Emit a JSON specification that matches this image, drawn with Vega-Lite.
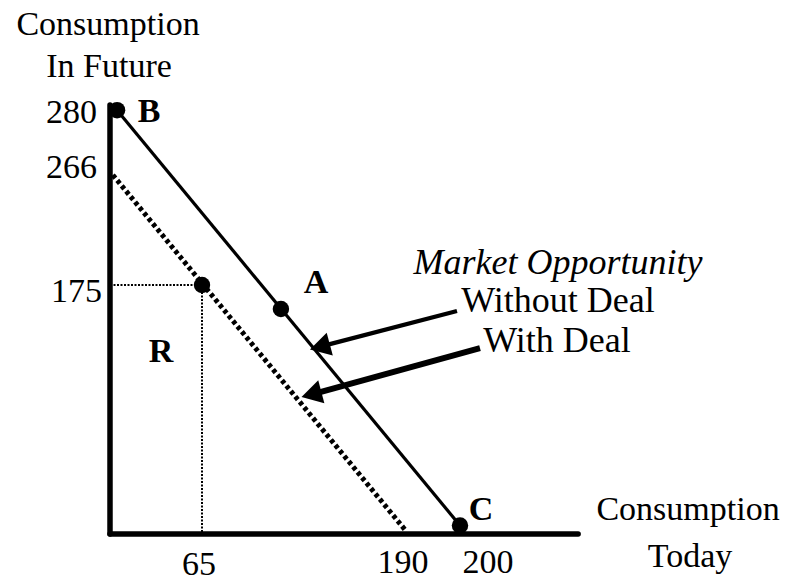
{
  "$schema": "https://vega.github.io/schema/vega-lite/v6.json",
  "width": 790,
  "height": 582,
  "autosize": {"type": "fit", "contains": "padding"},
  "padding": 0,
  "background": "white",
  "config": {"view": {"stroke": null}},
  "encoding": {
    "x": {"field": "x", "type": "quantitative", "axis": null,
      "scale": {"domain": [-80, 0, 65, 190, 200, 300], "range": [0, 110, 202, 405, 460, 790], "nice": false, "zero": false}},
    "y": {"field": "y", "type": "quantitative", "axis": null,
      "scale": {"domain": [-35, 0, 175, 266, 280, 360], "range": [582, 534, 285, 175, 113, 0], "nice": false, "zero": false}}
  },
  "layer": [
    {
      "data": {"values": [
        {"part": "Consumption Today axis", "x": 0, "y": 0, "x2": 235.8, "y2": 0},
        {"part": "Consumption In Future axis", "x": 0, "y": 0, "x2": 0, "y2": 285.7}
      ]},
      "mark": {"type": "rule", "color": "black", "strokeWidth": 5.5, "strokeCap": "round"},
      "encoding": {"x2": {"field": "x2"}, "y2": {"field": "y2"}}
    },
    {
      "data": {"values": [
        {"part": "guide 175", "x": 0, "y": 175, "x2": 65, "y2": 175},
        {"part": "guide 65", "x": 65, "y": 175, "x2": 65, "y2": 0}
      ]},
      "mark": {"type": "rule", "color": "black", "strokeWidth": 2, "strokeDash": [2, 1.5]},
      "encoding": {"x2": {"field": "x2"}, "y2": {"field": "y2"}}
    },
    {
      "data": {"values": [
        {"series": "With Deal", "x": 2, "y": 266, "x2": 190, "y2": 3}
      ]},
      "mark": {"type": "rule", "color": "black", "strokeWidth": 5, "strokeDash": [4, 3]},
      "encoding": {"x2": {"field": "x2"}, "y2": {"field": "y2"}}
    },
    {
      "data": {"values": [
        {"series": "Without Deal", "x": 5, "y": 282, "x2": 200, "y2": 6}
      ]},
      "mark": {"type": "rule", "color": "black", "strokeWidth": 3.2},
      "encoding": {"x2": {"field": "x2"}, "y2": {"field": "y2"}}
    },
    {
      "data": {"values": [
        {"point": "B", "x": 5, "y": 282},
        {"point": "A", "x": 113.6, "y": 158.1},
        {"point": "R corner", "x": 65, "y": 175},
        {"point": "C", "x": 200, "y": 6}
      ]},
      "mark": {"type": "circle", "color": "black", "opacity": 1, "size": 270}
    },
    {
      "data": {"values": [
        {"arrow": "Without Deal", "x": 199.45, "y": 156.7, "x2": 139.6, "y2": 132.2}
      ]},
      "mark": {"type": "rule", "color": "black", "strokeWidth": 4.2},
      "encoding": {"x2": {"field": "x2"}, "y2": {"field": "y2"}}
    },
    {
      "data": {"values": [
        {"arrow": "With Deal", "x": 206.06, "y": 130.7, "x2": 134.4, "y2": 98.7}
      ]},
      "mark": {"type": "rule", "color": "black", "strokeWidth": 6},
      "encoding": {"x2": {"field": "x2"}, "y2": {"field": "y2"}}
    },
    {
      "data": {"values": [
        {"arrow": "Without Deal", "x": 139.6, "y": 132.2},
        {"arrow": "With Deal", "x": 134.4, "y": 98.7}
      ]},
      "mark": {"type": "point", "shape": "triangle", "filled": true, "color": "black", "opacity": 1, "size": 560, "angle": 255}
    },
    {
      "data": {"values": [
        {"label": "280", "x": -9.45, "y": 277.7},
        {"label": "266", "x": -9.45, "y": 263.5},
        {"label": "175", "x": -5.8, "y": 163.0}
      ]},
      "mark": {"type": "text", "font": "Liberation Serif", "fontSize": 34, "align": "right", "baseline": "alphabetic", "color": "black"},
      "encoding": {"text": {"field": "label"}}
    },
    {
      "data": {"values": [
        {"label": "65", "x": 62.9, "y": -29.9},
        {"label": "190", "x": 188.8, "y": -28.4},
        {"label": "200", "x": 208.5, "y": -28.4},
        {"label": "Consumption", "x": -1.45, "y": 335.2},
        {"label": "In Future", "x": -0.73, "y": 305.5},
        {"label": "Consumption", "x": 269.1, "y": 9.8},
        {"label": "Today", "x": 269.7, "y": -24.1}
      ]},
      "mark": {"type": "text", "font": "Liberation Serif", "fontSize": 34, "align": "center", "baseline": "alphabetic", "color": "black"},
      "encoding": {"text": {"field": "label"}}
    },
    {
      "data": {"values": [
        {"label": "Without Deal", "x": 229.7, "y": 156.0},
        {"label": "With Deal", "x": 229.4, "y": 127.9}
      ]},
      "mark": {"type": "text", "font": "Liberation Serif", "fontSize": 36, "align": "center", "baseline": "alphabetic", "color": "black"},
      "encoding": {"text": {"field": "label"}}
    },
    {
      "data": {"values": [
        {"label": "Market Opportunity", "x": 229.7, "y": 184.1}
      ]},
      "mark": {"type": "text", "font": "Liberation Serif", "fontSize": 36, "fontStyle": "italic", "align": "center", "baseline": "alphabetic", "color": "black"},
      "encoding": {"text": {"field": "label"}}
    },
    {
      "data": {"values": [
        {"label": "B", "x": 27.6, "y": 278.0},
        {"label": "A", "x": 135.2, "y": 169.4},
        {"label": "R", "x": 36.0, "y": 120.9},
        {"label": "C", "x": 206.4, "y": 9.8}
      ]},
      "mark": {"type": "text", "font": "Liberation Serif", "fontSize": 34, "fontWeight": "bold", "align": "center", "baseline": "alphabetic", "color": "black"},
      "encoding": {"text": {"field": "label"}}
    }
  ]
}
